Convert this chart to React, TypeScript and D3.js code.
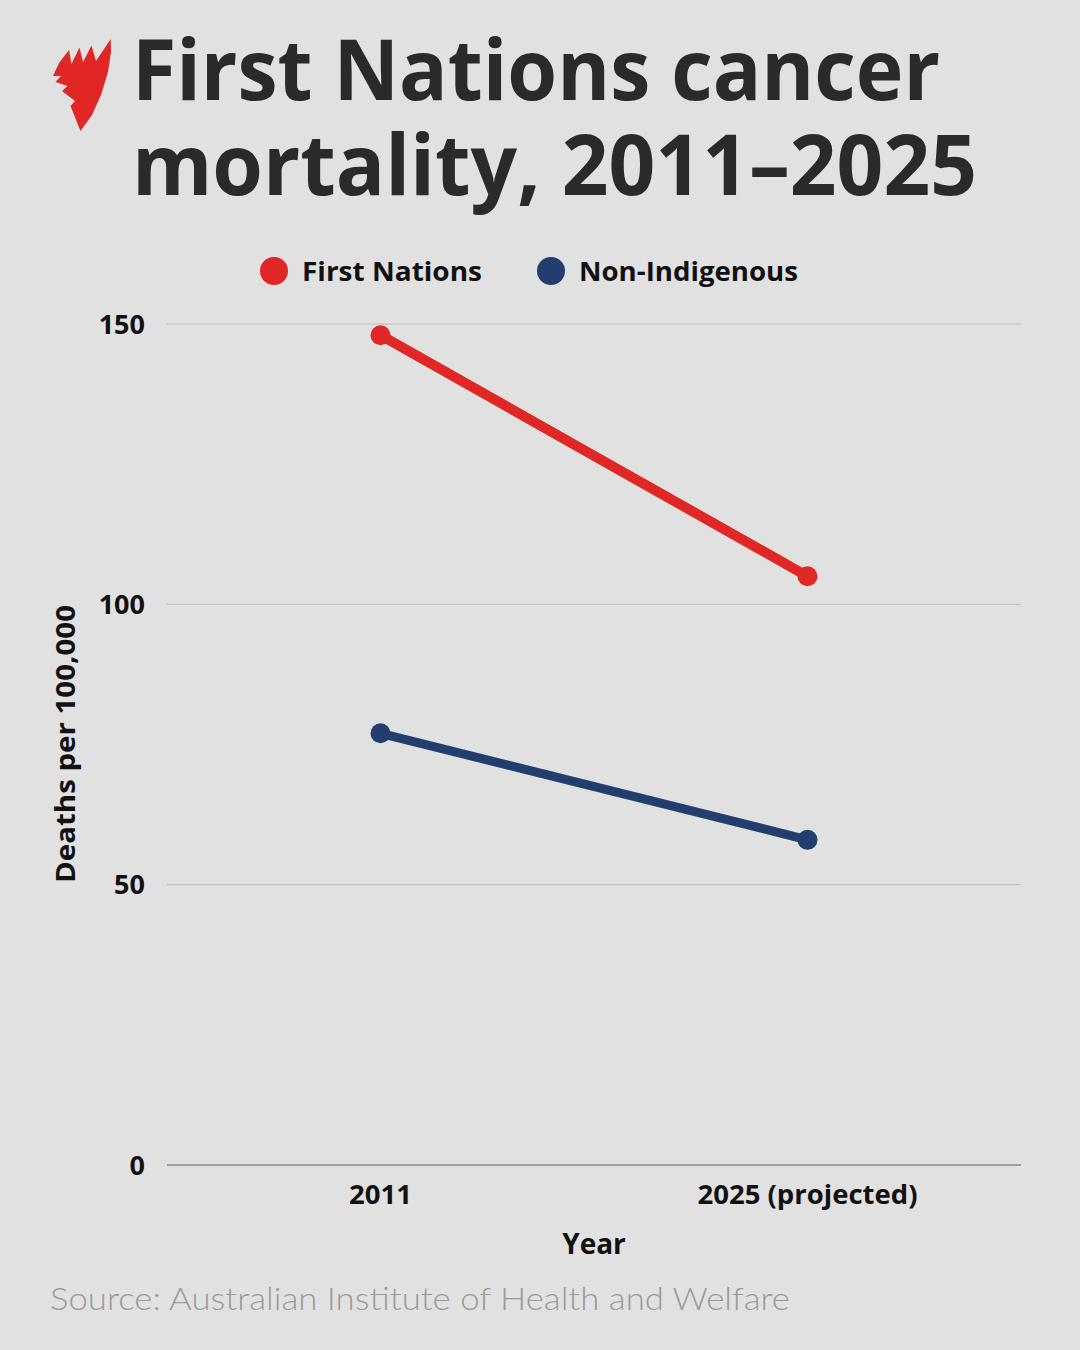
import React from "react";
import * as d3 from "d3";

const years = ["2011", "2025 (projected)"];
const firstNations = [148, 105];
const nonIndigenous = [77, 58];
const yTicks = [0, 50, 100, 150];

const W = 1080;
const H = 1350;
const plot = { left: 167, right: 1021, top: 324, bottom: 1165 };

const RED = "#e02725";
const BLUE = "#233d6e";
const INK = "#111";
const FONT = "'Open Sans', 'DejaVu Sans', sans-serif";

// outline of the red flame logo, clockwise from the top-right tip
const logoOutline: [number, number][] = [
  [110.7, 39], [111, 52], [108, 72], [101, 95], [92, 115], [80.5, 131],
  [70.5, 106], [75, 101], [62, 91], [67.5, 86], [55.5, 82], [61, 76],
  [53, 76], [59, 63], [69, 50], [71.5, 64], [79.5, 47.5], [83, 62],
  [91.5, 45.5], [96, 61],
];

export default function App() {
  const x = d3.scalePoint<string>().domain(years).range([plot.left, plot.right]).padding(0.5);
  const y = d3.scaleLinear().domain([0, 150]).range([plot.bottom, plot.top]);
  const line = d3
    .line<number>()
    .x((_, i) => x(years[i]) as number)
    .y((d) => y(d));
  const logoPath = d3.line().curve(d3.curveLinearClosed)(logoOutline) || "";

  const series = [
    { name: "First Nations", values: firstNations, color: RED, width: 10 },
    { name: "Non-Indigenous", values: nonIndigenous, color: BLUE, width: 9 },
  ];

  return (
    <svg
      width={W}
      height={H}
      viewBox={`0 0 ${W} ${H}`}
      style={{ position: "absolute", left: 0, top: 0, display: "block" }}
    >
      <rect width={W} height={H} fill="#e1e1e1" />

      {/* logo */}
      <path d={logoPath} fill={RED} />

      {/* title */}
      <text fontFamily={FONT} fontWeight={700} fontSize={84} fill="#2a2a2a">
        <tspan x={132} y={100} textLength={808} lengthAdjust="spacingAndGlyphs">
          First Nations cancer
        </tspan>
        <tspan x={132} y={195} textLength={845} lengthAdjust="spacingAndGlyphs">
          mortality, 2011–2025
        </tspan>
      </text>

      {/* legend */}
      <circle cx={274} cy={271} r={14} fill={RED} />
      <text x={302} y={281} fontFamily={FONT} fontWeight={700} fontSize={27.5} fill={INK}
        textLength={180} lengthAdjust="spacingAndGlyphs">
        First Nations
      </text>
      <circle cx={551} cy={271} r={14} fill={BLUE} />
      <text x={579} y={281} fontFamily={FONT} fontWeight={700} fontSize={27.5} fill={INK}
        textLength={219} lengthAdjust="spacingAndGlyphs">
        Non-Indigenous
      </text>

      {/* grid and y ticks */}
      {yTicks.map((t) => (
        <g key={t}>
          <line
            x1={plot.left}
            x2={plot.right}
            y1={y(t)}
            y2={y(t)}
            stroke={t === 0 ? "#8a8a8a" : "#bdbdbd"}
            strokeWidth={t === 0 ? 1.5 : 1}
          />
          <text x={145} y={y(t) + 9.5} textAnchor="end" fontFamily={FONT} fontWeight={700} fontSize={27} fill={INK}>
            {t}
          </text>
        </g>
      ))}

      {/* x ticks */}
      {years.map((yr) => (
        <text key={yr} x={x(yr)} y={1204} textAnchor="middle" fontFamily={FONT} fontWeight={700} fontSize={27.5} fill={INK}>
          {yr}
        </text>
      ))}

      {/* axis titles */}
      <text x={594} y={1254} textAnchor="middle" fontFamily={FONT} fontWeight={700} fontSize={28} fill={INK}>
        Year
      </text>
      <text
        transform={`translate(75,744) rotate(-90)`}
        textAnchor="middle"
        fontFamily={FONT}
        fontWeight={700}
        fontSize={26}
        fill={INK}
        textLength={278}
        lengthAdjust="spacingAndGlyphs"
      >
        Deaths per 100,000
      </text>

      {/* lines */}
      {series.map((s) => (
        <g key={s.name}>
          <path d={line(s.values) || ""} fill="none" stroke={s.color} strokeWidth={s.width} strokeLinecap="round" />
          {s.values.map((v, i) => (
            <circle key={i} cx={x(years[i])} cy={y(v)} r={10} fill={s.color} />
          ))}
        </g>
      ))}

      {/* source */}
      <text x={50} y={1310} fontFamily="Lato, 'Open Sans', sans-serif" fontWeight={300} fontSize={32} fill="#9a9a9a"
        textLength={740} lengthAdjust="spacingAndGlyphs">
        Source: Australian Institute of Health and Welfare
      </text>
    </svg>
  );
}
